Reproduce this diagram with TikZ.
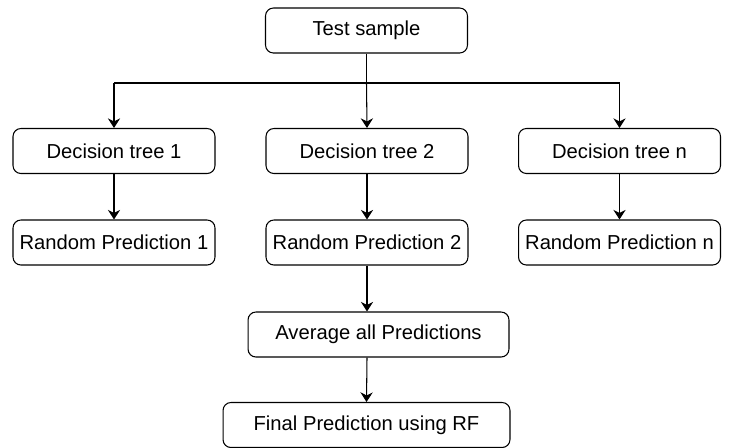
\documentclass[tikz,border=0pt]{standalone}
\usepackage{fontspec}
\setmainfont{Liberation Sans}
\usetikzlibrary{arrows.meta}

\begin{document}
\begin{tikzpicture}[x=0.02cm,y=-0.02cm,
  box/.style={draw,rounded corners=4.5pt,line width=0.6pt,minimum width=#1,minimum height=0.9cm,inner sep=0pt,font=\fontsize{11.5}{13}\selectfont},
  box/.default=4.04cm,
  arr/.style={-{Stealth[length=5.5pt,width=7pt]},line width=0.6pt}]
  \useasboundingbox (0,0) rectangle (729,447);
  \node [box] (test) at (366.5,30.5) {Test sample};
  \node [box] (dt1) at (114,151) {Decision tree 1};
  \node [box] (dt2) at (367,151) {Decision tree 2};
  \node [box] (dtn) at (619.5,151) {Decision tree n};
  \node [box] (rp1) at (114,242.5) {Random Prediction 1};
  \node [box] (rp2) at (367,242.5) {Random Prediction 2};
  \node [box] (rpn) at (619.5,242.5) {Random Prediction n};
  \node [box=5.22cm] (avg) at (378.5,334.5) {Average all Predictions};
  \node [box=5.74cm] (final) at (366.5,425) {Final Prediction using RF};
  \coordinate (split) at (366.5,83);
  % fan out from the test sample
  \draw [line width=0.6pt] (test.south) -- (split);
  \draw [line width=0.6pt] (dt1 |- split) -- (dtn |- split);
  \draw [arr] (dt1 |- split) -- (dt1.north);
  \draw [arr] (split) -- (dt2.north);
  \draw [arr] (dtn |- split) -- (dtn.north);
  % trees to predictions
  \draw [arr] (dt1) -- (rp1);
  \draw [arr] (dt2) -- (rp2);
  \draw [arr] (dtn) -- (rpn);
  \draw [arr] (rp2.south) -- (rp2 |- avg.north);
  \draw [arr] (rp2 |- avg.south) -- (final.north);
\end{tikzpicture}
\end{document}
